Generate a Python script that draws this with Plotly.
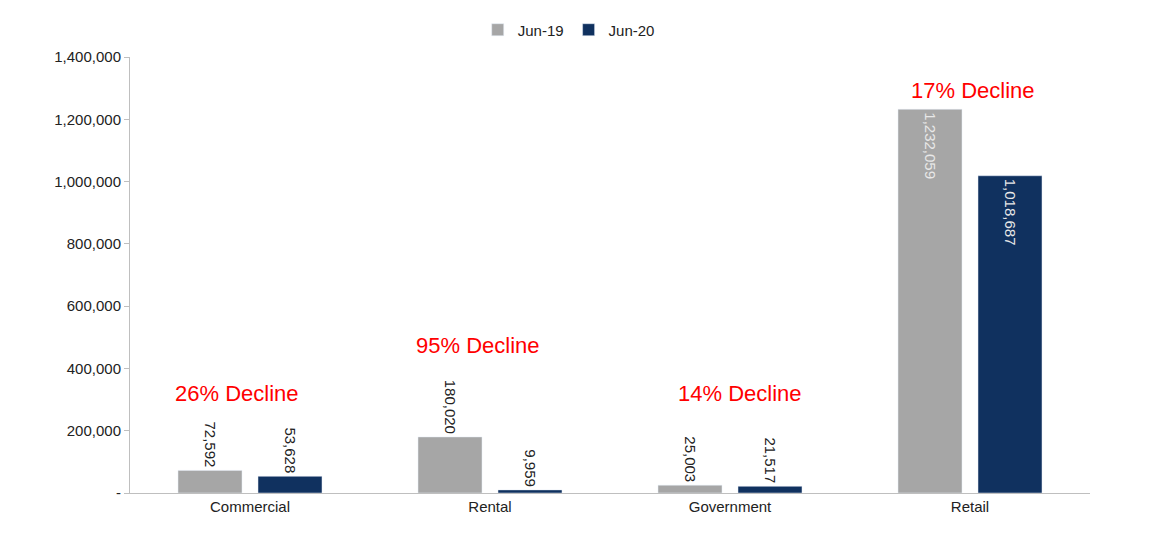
import plotly.graph_objects as go

categories = ["Commercial", "Rental", "Government", "Retail"]
jun19 = [72592, 180020, 25003, 1232059]
jun20 = [53628, 9959, 21517, 1018687]
decline_labels = ["26% Decline", "95% Decline", "14% Decline", "17% Decline"]
decline_y = [321000, 475000, 321000, 1294000]
decline_xshift = [-13, -12, 10, 3]
tick_vals = [0, 200000, 400000, 600000, 800000, 1000000, 1200000, 1400000]
tick_text = ["-", "200,000", "400,000", "600,000", "800,000", "1,000,000", "1,200,000", "1,400,000"]

GRAY = "#A6A6A6"
NAVY = "#10315F"
FONT = "Liberation Sans, Arial, sans-serif"

def fmt(v):
    return f"{v:,}"

def positions(vals):
    return ["inside" if v > 600000 else "outside" for v in vals]

fig = go.Figure()
for name, vals, col in [("Jun-19", jun19, GRAY), ("Jun-20", jun20, NAVY)]:
    fig.add_trace(go.Bar(
        x=categories, y=vals, name=name, marker_color=col,
        text=[fmt(v) for v in vals], textposition=positions(vals),
        insidetextanchor="end", textangle=90, constraintext="none",
        insidetextfont=dict(color="#E8E8E8", size=15, family=FONT),
        outsidetextfont=dict(color="#222222", size=15, family=FONT),
        cliponaxis=False,
    ))

for c, lab, yv, xs in zip(categories, decline_labels, decline_y, decline_xshift):
    fig.add_annotation(x=c, y=yv, text=lab, showarrow=False, xshift=xs,
                       font=dict(color="#FF0000", size=22, family=FONT))

fig.update_layout(
    width=1160, height=527,
    margin=dict(l=122, r=78, t=49, b=42, autoexpand=False),
    paper_bgcolor="white", plot_bgcolor="white",
    font=dict(family=FONT, size=15, color="#222222"),
    barmode="group", bargap=1/3, bargroupgap=0.2,
    legend=dict(orientation="h", x=0.457, xanchor="center", y=1.062, yanchor="middle",
                font=dict(size=15), itemwidth=30, tracegroupgap=0),
    xaxis=dict(showline=True, linecolor="#BFBFBF", linewidth=1, ticks="",
               showgrid=False, tickfont=dict(size=15), automargin=False),
    yaxis=dict(range=[0, 1400000], tickvals=tick_vals, ticktext=tick_text,
               showline=True, linecolor="#BFBFBF", linewidth=1, ticks="outside",
               ticklen=5, tickcolor="#BFBFBF", showgrid=False, zeroline=False,
               tickfont=dict(size=15), automargin=False),
)

fig.write_html("out.html")
